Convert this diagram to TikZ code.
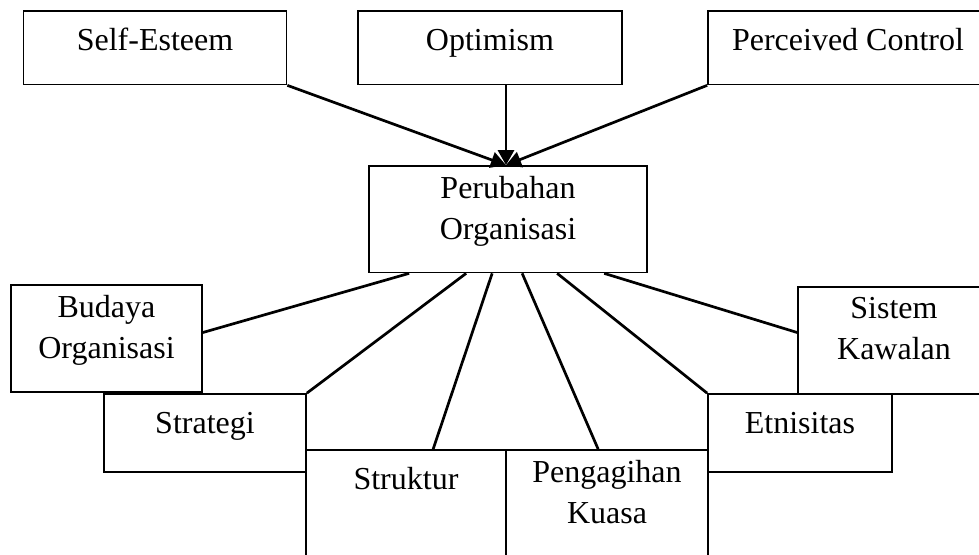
\documentclass[tikz,border=0pt]{standalone}
\usepackage{fontspec}
\setmainfont{Liberation Serif}
\usetikzlibrary{arrows.meta,positioning,calc}

\begin{document}
\begin{tikzpicture}[
  x=1pt, y=-1pt,
  box/.style={draw, line width=1.7pt, inner sep=0pt},
  txt/.style={font=\fontsize{32}{41}\selectfont, align=center, inner sep=0pt,
    anchor=north, execute at begin node=\strut},
  link/.style={line width=2.7pt},
  >={Triangle[length=15pt,width=16pt]}
]
  \useasboundingbox (0,0) rectangle (979,554);
  \clip (0,0) rectangle (979,554);

  % top row
  \node[box, minimum width=263pt, minimum height=73.5pt] (se) at (155,47.75) {};
  \node[box, minimum width=264pt, minimum height=73.5pt] (op) at (490,47.75) {};
  \node[box, minimum width=280pt, minimum height=73.5pt] (pc) at (848,47.75) {};

  % centre
  \node[box, minimum width=278pt, minimum height=106.5pt] (pu) at (508,219.25) {};
  \coordinate (tip) at ($(pu.north)+(-2,0)$);

  % bottom group
  \node[box, minimum width=191pt, minimum height=107pt] (bo) at (106.5,338.5) {};
  \node[box, minimum width=202pt, minimum height=78pt] (st) at (205,433) {};
  \node[box, minimum width=200pt, minimum height=110pt] (sk) at (406,505) {};
  \node[box, minimum width=202pt, minimum height=110pt] (pk) at (607,505) {};
  \node[box, minimum width=184pt, minimum height=78pt] (et) at (800,433) {};
  \node[box, minimum width=192pt, minimum height=107pt] (sy) at (894,340.5) {};

  % labels sit near the top of each box
  \node[txt] (se-t) at ($(se.north)+(0,11.3)$) {Self-Esteem};
  \node[txt] (op-t) at ($(op.north)+(0,11.3)$) {Optimism};
  \node[txt] (pc-t) at ($(pc.north)+(0,11.3)$) {Perceived Control};
  \node[txt] (pu-t) at ($(pu.north)+(0,11.3)$) {Perubahan\\Organisasi};
  \node[txt] (bo-t) at ($(bo.north)+(0,11.3)$) {Budaya\\Organisasi};
  \node[txt] (st-t) at ($(st.north)+(0,11.3)$) {Strategi};
  \node[txt] (sk-t) at ($(sk.north)+(0,11.3)$) {Struktur};
  \node[txt] (pk-t) at ($(pk.north)+(0,11.3)$) {Pengagihan\\Kuasa};
  \node[txt] (et-t) at ($(et.north)+(0,11.3)$) {Etnisitas};
  \node[txt] (sy-t) at ($(sy.north)+(0,11.3)$) {Sistem\\Kawalan};

  % inputs into the centre box
  \draw[link, ->] (se.south east) -- (tip);
  \draw[link, ->] (tip |- op.south) -- (tip);
  \draw[link, ->] (pc.south west) -- (tip);

  % links out of the centre box
  \draw[link] ($(pu.south west)+(41,0)$) -- ($(bo.east)+(0,-6)$);
  \draw[link] ($(pu.south west)+(98,0)$) -- (st.north east);
  \draw[link] ($(pu.south west)+(124,0)$) -- ($(sk.north west)+(128,0)$);
  \draw[link] ($(pu.south west)+(154,0)$) -- ($(pk.north west)+(93,0)$);
  \draw[link] ($(pu.south west)+(189,0)$) -- (et.north west);
  \draw[link] ($(pu.south west)+(236,0)$) -- ($(sy.west)+(0,-8)$);
\end{tikzpicture}
\end{document}
